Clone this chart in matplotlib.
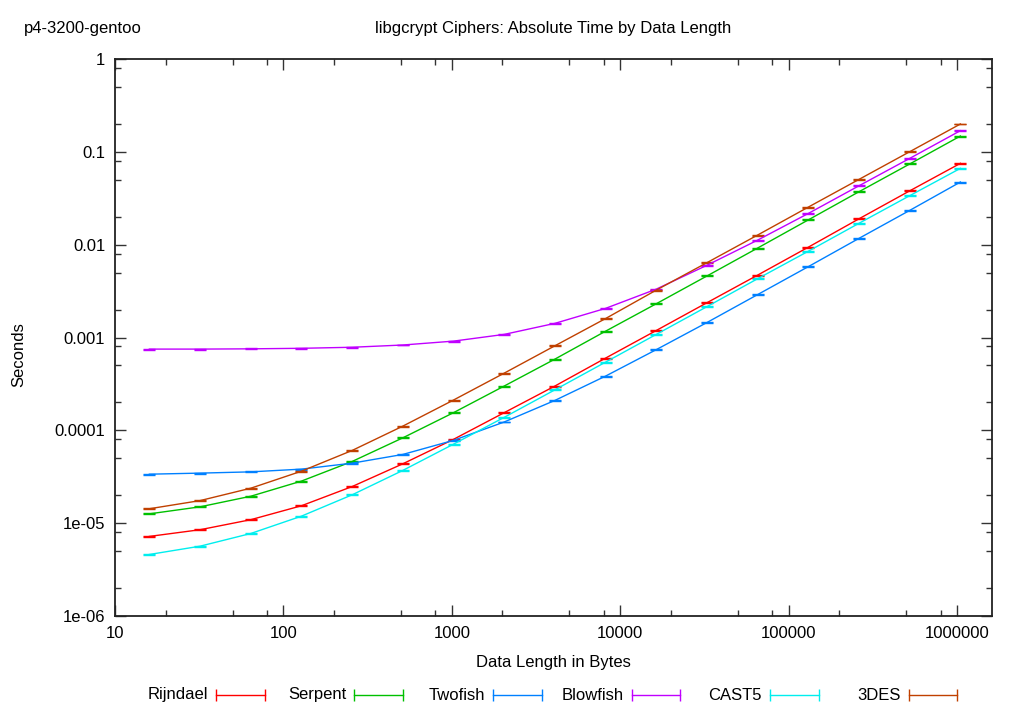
'''
libgcrypt cipher timings, log-log plot in gnuplot style
'''
import matplotlib
matplotlib.use('Agg')
import matplotlib.pyplot as plt
from matplotlib.lines import Line2D
from matplotlib.ticker import FixedLocator, FixedFormatter, LogLocator, NullFormatter

plt.rcParams['font.family'] = ['Liberation Sans', 'DejaVu Sans']
plt.rcParams['font.size'] = 12

# data length in bytes
sizes = [16, 32, 64, 128, 256, 512, 1024, 2048, 4096, 8192, 16384, 32768,
         65536, 131072, 262144, 524288, 1048576]

# seconds per cipher
rijndael = [7.2e-6, 8.5e-6, 1.09e-5, 1.54e-5, 2.48e-5, 4.36e-5, 8.0e-5, 1.55e-4, 3.0e-4,
            6.0e-4, 1.19e-3, 2.37e-3, 4.7e-3, 9.4e-3, 0.0190, 0.0380, 0.0752]
serpent = [1.26e-5, 1.5e-5, 1.95e-5, 2.84e-5, 4.62e-5, 8.3e-5, 1.55e-4, 3.0e-4, 5.85e-4,
           1.17e-3, 2.31e-3, 4.6e-3, 9.2e-3, 0.0185, 0.0372, 0.0740, 0.148]
twofish = [3.37e-5, 3.46e-5, 3.57e-5, 3.82e-5, 4.43e-5, 5.5e-5, 7.8e-5, 1.23e-4, 2.1e-4,
           3.84e-4, 7.4e-4, 1.45e-3, 2.9e-3, 5.8e-3, 0.0117, 0.0234, 0.0473]
blowfish = [7.5e-4, 7.5e-4, 7.55e-4, 7.65e-4, 7.85e-4, 8.3e-4, 9.14e-4, 1.08e-3, 1.42e-3,
            2.06e-3, 3.32e-3, 6.0e-3, 0.0112, 0.0217, 0.0431, 0.085, 0.169]
cast5 = [4.6e-6, 5.65e-6, 7.74e-6, 1.19e-5, 2.02e-5, 3.7e-5, 7.1e-5, 1.38e-4, 2.73e-4,
         5.43e-4, 1.08e-3, 2.15e-3, 4.3e-3, 8.5e-3, 0.0170, 0.0337, 0.0664]
des3 = [1.43e-5, 1.75e-5, 2.38e-5, 3.63e-5, 6.07e-5, 1.11e-4, 2.12e-4, 4.13e-4, 8.14e-4,
        1.6e-3, 3.24e-3, 6.4e-3, 0.0127, 0.0254, 0.0505, 0.1003, 0.1995]

names = ['Rijndael', 'Serpent', 'Twofish', 'Blowfish', 'CAST5', '3DES']
series = [rijndael, serpent, twofish, blowfish, cast5, des3]
colors = ['#ff0000', '#00c000', '#0080ff', '#c000ff', '#00eeee', '#c04000']
err_frac = 0.012  # relative size of the error bars

xticks = [10, 100, 1000, 10000, 100000, 1000000]
xticklabels = ['10', '100', '1000', '10000', '100000', '1000000']
yticks = [1e-6, 1e-5, 1e-4, 1e-3, 1e-2, 1e-1, 1]
yticklabels = ['1e-06', '1e-05', '0.0001', '0.001', '0.01', '0.1', '1']

W, H = 1020, 714
fig = plt.figure(figsize=(W / 100, H / 100), dpi=100)
ax = fig.add_axes([115 / W, 1 - 616 / H, (992 - 115) / W, (616 - 59) / H])

for name, vals, c in zip(names, series, colors):
    ax.errorbar(sizes, vals, yerr=[v * err_frac for v in vals], color=c, lw=1,
                elinewidth=1, capsize=4, capthick=1, label=name)

ax.set_xscale('log')
ax.set_yscale('log')
ax.set_xlim(10, 1.615e6)
ax.set_ylim(1e-6, 1)

ax.xaxis.set_major_locator(FixedLocator(xticks))
ax.xaxis.set_major_formatter(FixedFormatter(xticklabels))
ax.yaxis.set_major_locator(FixedLocator(yticks))
ax.yaxis.set_major_formatter(FixedFormatter(yticklabels))
ax.xaxis.set_minor_locator(LogLocator(base=10, subs=[2, 5, 8]))
ax.yaxis.set_minor_locator(LogLocator(base=10, subs=[2, 5, 8]))
ax.xaxis.set_minor_formatter(NullFormatter())
ax.yaxis.set_minor_formatter(NullFormatter())
ax.tick_params(which='both', direction='in', top=True, right=True, color='#333333')
ax.tick_params(which='major', length=8, width=1, pad=7)
ax.tick_params(which='minor', length=4, width=1)
for s in ax.spines.values():
    s.set_linewidth(1.3)
    s.set_color('#222222')

# titles and axis labels
fig.text(24 / W, 1 - 29 / H, 'p4-3200-gentoo', ha='left', va='center')
fig.text(553 / W, 1 - 29 / H, 'libgcrypt Ciphers: Absolute Time by Data Length',
         ha='center', va='center')
fig.text(553 / W, 1 - 663 / H, 'Data Length in Bytes', ha='center', va='center')
fig.text(19 / W, 1 - 355 / H, 'Seconds', ha='center', va='center', rotation=90)

# gnuplot style key along the bottom
ky = 1 - 695 / H
for i, (name, c) in enumerate(zip(names, colors)):
    x0 = 216 + 138.5 * i
    fig.text((x0 - 8) / W, ky, name, ha='right', va='center')
    fig.add_artist(Line2D([x0 / W, (x0 + 49) / W], [ky, ky], color=c, lw=1,
                          marker='|', markersize=9, markeredgewidth=1))

fig.savefig('out.png', dpi=100)
